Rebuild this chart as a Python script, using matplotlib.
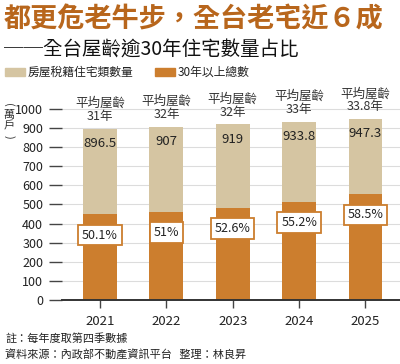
import matplotlib.pyplot as plt

plt.rcParams['font.family'] = ['Noto Sans CJK TC', 'DejaVu Sans']

years = ["2021", "2022", "2023", "2024", "2025"]
totals = [896.5, 907, 919, 933.8, 947.3]
old_counts = [449.1, 462.6, 483.4, 515.5, 554.2]
pct_labels = ["50.1%", "51%", "52.6%", "55.2%", "58.5%"]
avg_age = ["31年", "32年", "32年", "33年", "33.8年"]
unit_label = "(萬戶)"

tan = "#d5c5a2"
orange = "#cc7e2e"
title_color = "#b8661c"

fig = plt.figure(figsize=(4, 3.64), dpi=100)
ax = fig.add_axes([0.155, 0.1758, 0.845, 0.5495])

x = list(range(len(years)))
ax.bar(x, totals, width=0.51, color=tan, zorder=2)
ax.bar(x, old_counts, width=0.51, color=orange, zorder=3)

for i in x:
    ax.annotate("平均屋齡\n" + avg_age[i], (i, totals[i]), xytext=(0, 4),
                textcoords="offset points", ha="center", va="bottom",
                fontsize=9, color="#333333", linespacing=1.0, clip_on=False)
    ax.annotate(f"{totals[i]:g}", (i, totals[i]), xytext=(0, -6),
                textcoords="offset points", ha="center", va="top",
                fontsize=9.5, fontweight="medium", color="#222222", zorder=5)
    ax.annotate(pct_labels[i], (i, old_counts[i]), xytext=(0, -15),
                textcoords="offset points", ha="center", va="center",
                fontsize=9, fontweight="medium", color="#222222", zorder=6,
                bbox=dict(boxstyle="square,pad=0.3", fc="white", ec=orange, lw=1.3))

ax.set_xlim(-0.573, 4.52)
ax.set_ylim(0, 1047)
ax.set_yticks(range(0, 1001, 100))
ax.set_xticks(x)
ax.set_xticklabels(years)
ax.yaxis.grid(True, color="#dcdcdc", lw=0.8, zorder=0)
for s in ["top", "right", "left"]:
    ax.spines[s].set_visible(False)
ax.spines["bottom"].set_color("#333333")
ax.spines["bottom"].set_linewidth(1.4)
ax.spines["bottom"].set_zorder(4)
ax.tick_params(axis="y", length=9.5, width=1.0, color="#444444", pad=4,
               labelsize=9, labelcolor="#222222")
ax.tick_params(axis="x", length=6, width=1.0, color="#444444", pad=5,
               labelsize=9.5, labelcolor="#222222")

# vertical unit label: upright characters, parentheses turned
rows_y = [105, 115, 126, 137]
for ch, py in zip(unit_label, rows_y):
    rot = -90 if ch in "()" else 0
    fig.text(0.022, 1 - py / 364, ch, fontsize=8, color="#333333",
             ha="center", va="center", rotation=rot)

fig.text(0.01, 0.947, "都更危老牛步，全台老宅近６成", fontsize=19.5, fontweight="bold",
         color=title_color, ha="left", va="center")
fig.text(0.01, 0.862, "──全台屋齡逾30年住宅數量占比", fontsize=14, fontweight="medium",
         color="#111111", ha="left", va="center")

fig.patches.append(plt.Rectangle((0.0125, 0.791), 0.05, 0.022, color=tan,
                                 transform=fig.transFigure, figure=fig))
fig.text(0.07, 0.802, "房屋稅籍住宅類數量", fontsize=8.5, color="#222222",
         ha="left", va="center")
fig.patches.append(plt.Rectangle((0.387, 0.791), 0.05, 0.022, color=orange,
                                 transform=fig.transFigure, figure=fig))
fig.text(0.445, 0.802, "30年以上總數", fontsize=8.5, color="#222222",
         ha="left", va="center")

fig.text(0.0125, 0.071, "註：每年度取第四季數據", fontsize=8, color="#222222",
         ha="left", va="center")
fig.text(0.0125, 0.028, "資料來源：內政部不動產資訊平台   整理：林良昇", fontsize=8,
         color="#222222", ha="left", va="center")

fig.savefig("out.png", dpi=100)
